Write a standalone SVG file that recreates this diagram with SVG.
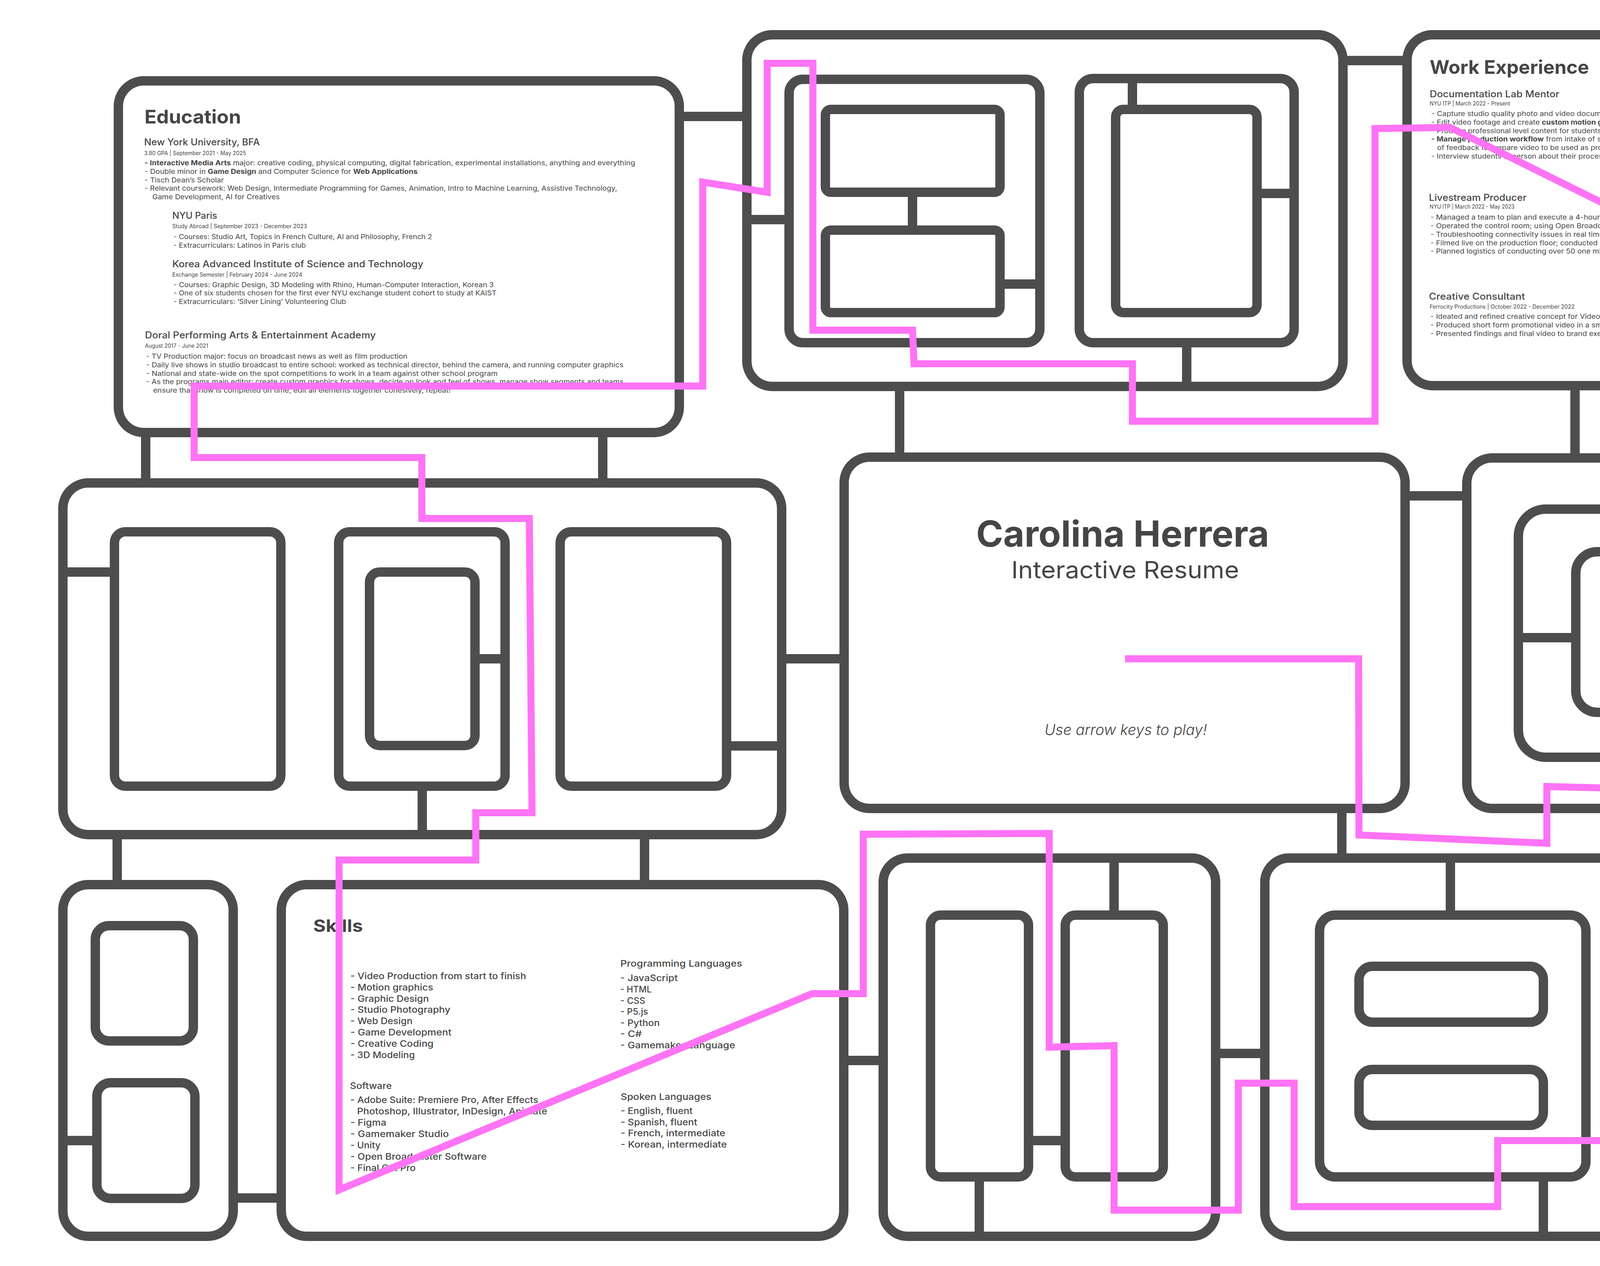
<svg xmlns="http://www.w3.org/2000/svg" width="5760" height="3240" viewBox="0 0 5760 3240">
<style>
.bx{fill:#ffffff;stroke:#4d4d4d;stroke-width:24}
.ln{stroke:#4d4d4d;stroke-width:24;fill:none}
.pk{fill:none;stroke:#ff73f5;stroke-width:18;stroke-linejoin:miter}
text{font-family:Inter,'Liberation Sans',sans-serif;fill:#454545}
.h1{font-size:48px;font-weight:700}
.h2{font-size:24px;font-weight:500}
.dt{font-size:14px;font-weight:400}
.b{font-size:17px;font-weight:400}
.sk{font-size:23px;font-weight:500}
.it{font-style:italic;font-weight:300}
tspan.s{font-weight:700}
</style>
<rect width="5760" height="3240" fill="#ffffff"/>

<g id="education">
<rect class="bx" x="303" y="207" width="1436" height="900" rx="65"/>
<text class="h1" x="370" y="316" textLength="247" lengthAdjust="spacingAndGlyphs">Education</text>
<text class="h2" x="369" y="372" textLength="296" lengthAdjust="spacingAndGlyphs">New York University, BFA</text>
<text class="dt" x="369" y="397" textLength="261" lengthAdjust="spacingAndGlyphs">3.80 GPA | September 2021 - May 2025</text>
<text class="b" x="370" y="423" textLength="1256" lengthAdjust="spacingAndGlyphs"><tspan class="s">-  Interactive Media Arts</tspan> major: creative coding, physical computing, digital fabrication, experimental installations, anything and everything</text>
<text class="b" x="370" y="445" textLength="699" lengthAdjust="spacingAndGlyphs">-  Double minor in <tspan class="s">Game Design</tspan> and Computer Science for <tspan class="s">Web Applications</tspan></text>
<text class="b" x="370" y="467" textLength="203" lengthAdjust="spacingAndGlyphs">-  Tisch Dean’s Scholar</text>
<text class="b" x="370" y="488" textLength="1210" lengthAdjust="spacingAndGlyphs">-  Relevant coursework: Web Design, Intermediate Programming for Games, Animation, Intro to Machine Learning, Assistive Technology,</text>
<text class="b" x="390" y="510" textLength="326" lengthAdjust="spacingAndGlyphs">Game Development, AI for Creatives</text>
<text class="h2" x="441" y="560" textLength="115" lengthAdjust="spacingAndGlyphs">NYU Paris</text>
<text class="dt" x="441" y="584" textLength="345" lengthAdjust="spacingAndGlyphs">Study Abroad | September 2023 - December 2023</text>
<text class="b" x="444" y="612" textLength="662" lengthAdjust="spacingAndGlyphs">-  Courses: Studio Art, Topics in French Culture, AI and Philosophy, French 2</text>
<text class="b" x="444" y="634" textLength="339" lengthAdjust="spacingAndGlyphs">-  Extracurriculars: Latinos in Paris club</text>
<text class="h2" x="441" y="684" textLength="643" lengthAdjust="spacingAndGlyphs">Korea Advanced Institute of Science and Technology</text>
<text class="dt" x="441" y="708" textLength="333" lengthAdjust="spacingAndGlyphs">Exchange Semester | February 2024 - June 2024</text>
<text class="b" x="444" y="735" textLength="820" lengthAdjust="spacingAndGlyphs">-  Courses: Graphic Design, 3D Modeling with Rhino, Human-Computer Interaction, Korean 3</text>
<text class="b" x="444" y="756" textLength="827" lengthAdjust="spacingAndGlyphs">-  One of six students chosen for the first ever NYU exchange student cohort to study at KAIST</text>
<text class="b" x="444" y="778" textLength="442" lengthAdjust="spacingAndGlyphs">-  Extracurriculars: ‘Silver Lining’ Volunteering Club</text>
<text class="h2" x="371" y="866" textLength="591" lengthAdjust="spacingAndGlyphs">Doral Performing Arts &amp; Entertainment Academy</text>
<text class="dt" x="371" y="890" textLength="162" lengthAdjust="spacingAndGlyphs">August 2017 - June 2021</text>
<text class="b" x="374" y="918" textLength="669" lengthAdjust="spacingAndGlyphs">-  TV Production major: focus on broadcast news as well as film production</text>
<text class="b" x="374" y="940" textLength="1222" lengthAdjust="spacingAndGlyphs">-  Daily live shows in studio broadcast to entire school: worked as technical director, behind the camera, and running computer graphics</text>
<text class="b" x="374" y="962" textLength="900" lengthAdjust="spacingAndGlyphs">-  National and state-wide on the spot competitions to work in a team against other school program</text>
<text class="b" x="374" y="983" textLength="1228" lengthAdjust="spacingAndGlyphs">-  As the programs main editor: create custom graphics for shows, decide on look and feel of shows, manage show segments and teams,</text>
<text class="b" x="392" y="1005" textLength="762" lengthAdjust="spacingAndGlyphs">ensure that show is completed on time, edit all elements together cohesively, repeat!</text>
</g>

<g id="top-middle">
<rect class="bx" x="1912" y="89" width="1526" height="900" rx="65"/>
<rect class="bx" x="2020" y="203" width="642" height="674" rx="35"/>
<rect class="bx" x="2113" y="280" width="447" height="212" rx="14"/>
<rect class="bx" x="2113" y="589" width="447" height="211" rx="14"/>
<rect class="bx" x="2763" y="201" width="550" height="676" rx="35"/>
<rect class="bx" x="2856" y="280" width="362" height="520" rx="20"/>
</g>

<g id="work-experience">
<rect class="bx" x="3602" y="89" width="1436" height="898" rx="65"/>
<text class="h1" x="3660" y="189" textLength="408" lengthAdjust="spacingAndGlyphs">Work Experience</text>
<text class="h2" x="3660" y="249" textLength="332" lengthAdjust="spacingAndGlyphs">Documentation Lab Mentor</text>
<text class="dt" x="3660" y="270" textLength="206" lengthAdjust="spacingAndGlyphs">NYU ITP | March 2022 - Present</text>
<text class="b" x="3664" y="297" textLength="686" lengthAdjust="spacingAndGlyphs">-  Capture studio quality photo and video documentation of student projects</text>
<text class="b" x="3664" y="319" textLength="902" lengthAdjust="spacingAndGlyphs">-  Edit video footage and create <tspan class="s">custom motion graphics</tspan> using Adobe Premiere Pro and After Effects</text>
<text class="b" x="3664" y="341" textLength="1046" lengthAdjust="spacingAndGlyphs">-  Produce professional level content for students’ portfolios, helping them present their work in the best light possible</text>
<text class="b" x="3664" y="362" textLength="1295" lengthAdjust="spacingAndGlyphs"><tspan class="s">-  Manage production workflow</tspan> from intake of specific client needs to production and image retouching to post production and multiple rounds</text>
<text class="b" x="3679" y="384" textLength="620" lengthAdjust="spacingAndGlyphs">of feedback to prepare video to be used as promotional NYU content</text>
<text class="b" x="3664" y="406" textLength="1066" lengthAdjust="spacingAndGlyphs">-  Interview students in person about their process and future plans, cut down the interview to the most important parts</text>
<text class="h2" x="3658" y="514" textLength="250" lengthAdjust="spacingAndGlyphs">Livestream Producer</text>
<text class="dt" x="3660" y="534" textLength="217" lengthAdjust="spacingAndGlyphs">NYU ITP | March 2022 - May 2023</text>
<text class="b" x="3662" y="562" textLength="1108" lengthAdjust="spacingAndGlyphs">-  Managed a team to plan and execute a 4-hour live YouTube show, coordinating technical setups and production logistics</text>
<text class="b" x="3662" y="584" textLength="1160" lengthAdjust="spacingAndGlyphs">-  Operated the control room; using Open Broadcaster Software to switch between cameras and handle smooth audio transitions</text>
<text class="b" x="3662" y="606" textLength="1269" lengthAdjust="spacingAndGlyphs">-  Troubleshooting connectivity issues in real time, communicating back and forth between floor and control room to ensure a seamless show</text>
<text class="b" x="3662" y="628" textLength="1208" lengthAdjust="spacingAndGlyphs">-  Filmed live on the production floor; conducted casual interviews with students about their works to celebrate the end of the semester</text>
<text class="b" x="3662" y="649" textLength="1159" lengthAdjust="spacingAndGlyphs">-  Planned logistics of conducting over 50 one minute interviews in one go, adapting to sudden issues and navigating a busy floor</text>
<text class="h2" x="3658" y="767" textLength="246" lengthAdjust="spacingAndGlyphs">Creative Consultant</text>
<text class="dt" x="3660" y="790" textLength="371" lengthAdjust="spacingAndGlyphs">Ferrocity Productions | October 2022 - December 2022</text>
<text class="b" x="3662" y="816" textLength="712" lengthAdjust="spacingAndGlyphs">-  Ideated and refined creative concept for Video Production company Ferrocity</text>
<text class="b" x="3662" y="838" textLength="765" lengthAdjust="spacingAndGlyphs">-  Produced short form promotional video in a small team: planning, shooting, editing.</text>
<text class="b" x="3662" y="860" textLength="502" lengthAdjust="spacingAndGlyphs">-  Presented findings and final video to brand executives</text>
</g>

<g id="top-right">
<rect class="bx" x="5180" y="89" width="420" height="898" rx="60"/>
<rect class="bx" x="5276" y="192" width="228" height="277" rx="50"/>
<rect class="bx" x="5276" y="591" width="228" height="281" rx="50"/>
</g>

<g id="middle-left">
<rect class="bx" x="161" y="1236" width="1840" height="900" rx="65"/>
<rect class="bx" x="293" y="1361" width="426" height="651" rx="28"/>
<rect class="bx" x="867" y="1361" width="426" height="651" rx="28"/>
<rect class="bx" x="946" y="1464" width="270" height="444" rx="26"/>
<rect class="bx" x="1434" y="1361" width="426" height="651" rx="28"/>
</g>

<g id="title">
<rect class="bx" x="2161" y="1170" width="1436" height="899" rx="65"/>
<text x="2499" y="1399" font-size="92" font-weight="700" textLength="750" lengthAdjust="spacingAndGlyphs">Carolina Herrera</text>
<text x="2589" y="1480" font-size="60" font-weight="400" textLength="583" lengthAdjust="spacingAndGlyphs">Interactive Resume</text>
<text class="it" x="2674" y="1881" font-size="38" textLength="416" lengthAdjust="spacingAndGlyphs">Use arrow keys to play!</text>
</g>

<g id="middle-right">
<rect class="bx" x="3755" y="1172" width="1845" height="897" rx="65"/>
<rect class="bx" x="3887" y="1303" width="813" height="635" rx="70"/>
<rect class="bx" x="4034" y="1412" width="525" height="411" rx="55"/>
<rect class="bx" x="4836" y="1303" width="613" height="635" rx="70"/>
<rect class="bx" x="4960" y="1412" width="361" height="411" rx="55"/>
</g>

<g id="bottom-left">
<rect class="bx" x="161" y="2264" width="436" height="900" rx="65"/>
<rect class="bx" x="244" y="2369" width="251" height="295" rx="35"/>
<rect class="bx" x="248" y="2771" width="251" height="296" rx="35"/>
</g>

<g id="skills">
<rect class="bx" x="720" y="2264" width="1440" height="900" rx="65"/>
<text x="802" y="2385" font-size="44" font-weight="700" textLength="127" lengthAdjust="spacingAndGlyphs">Skills</text>
<text class="sk" x="897" y="2506" textLength="450" lengthAdjust="spacingAndGlyphs">- Video Production from start to finish</text>
<text class="sk" x="897" y="2535" textLength="212" lengthAdjust="spacingAndGlyphs">- Motion graphics</text>
<text class="sk" x="897" y="2564" textLength="201" lengthAdjust="spacingAndGlyphs">- Graphic Design</text>
<text class="sk" x="897" y="2592" textLength="256" lengthAdjust="spacingAndGlyphs">- Studio Photography</text>
<text class="sk" x="897" y="2621" textLength="159" lengthAdjust="spacingAndGlyphs">- Web Design</text>
<text class="sk" x="897" y="2650" textLength="259" lengthAdjust="spacingAndGlyphs">- Game Development</text>
<text class="sk" x="897" y="2679" textLength="213" lengthAdjust="spacingAndGlyphs">- Creative Coding</text>
<text class="sk" x="897" y="2708" textLength="165" lengthAdjust="spacingAndGlyphs">- 3D Modeling</text>
<text class="sk" x="896" y="2787" textLength="107" lengthAdjust="spacingAndGlyphs">Software</text>
<text class="sk" x="897" y="2823" textLength="481" lengthAdjust="spacingAndGlyphs">- Adobe Suite: Premiere Pro, After Effects</text>
<text class="sk" x="914" y="2852" textLength="487" lengthAdjust="spacingAndGlyphs">Photoshop, Illustrator, InDesign, Animate</text>
<text class="sk" x="897" y="2881" textLength="92" lengthAdjust="spacingAndGlyphs">- Figma</text>
<text class="sk" x="897" y="2910" textLength="252" lengthAdjust="spacingAndGlyphs">- Gamemaker Studio</text>
<text class="sk" x="897" y="2939" textLength="77" lengthAdjust="spacingAndGlyphs">- Unity</text>
<text class="sk" x="897" y="2968" textLength="349" lengthAdjust="spacingAndGlyphs">- Open Broadcaster Software</text>
<text class="sk" x="897" y="2997" textLength="167" lengthAdjust="spacingAndGlyphs">- Final Cut Pro</text>
<text class="sk" x="1588" y="2474" textLength="312" lengthAdjust="spacingAndGlyphs">Programming Languages</text>
<text class="sk" x="1588" y="2511" textLength="147" lengthAdjust="spacingAndGlyphs">- JavaScript</text>
<text class="sk" x="1588" y="2540" textLength="80" lengthAdjust="spacingAndGlyphs">- HTML</text>
<text class="sk" x="1588" y="2569" textLength="64" lengthAdjust="spacingAndGlyphs">- CSS</text>
<text class="sk" x="1588" y="2597" textLength="71" lengthAdjust="spacingAndGlyphs">- P5.js</text>
<text class="sk" x="1588" y="2626" textLength="101" lengthAdjust="spacingAndGlyphs">- Python</text>
<text class="sk" x="1588" y="2654" textLength="55" lengthAdjust="spacingAndGlyphs">- C#</text>
<text class="sk" x="1588" y="2683" textLength="294" lengthAdjust="spacingAndGlyphs">- Gamemaker Language</text>
<text class="sk" x="1589" y="2815" textLength="232" lengthAdjust="spacingAndGlyphs">Spoken Languages</text>
<text class="sk" x="1589" y="2851" textLength="184" lengthAdjust="spacingAndGlyphs">- English, fluent</text>
<text class="sk" x="1589" y="2880" textLength="196" lengthAdjust="spacingAndGlyphs">- Spanish, fluent</text>
<text class="sk" x="1589" y="2908" textLength="268" lengthAdjust="spacingAndGlyphs">- French, intermediate</text>
<text class="sk" x="1589" y="2937" textLength="272" lengthAdjust="spacingAndGlyphs">- Korean, intermediate</text>
</g>

<g id="bottom-middle-left">
<rect class="bx" x="2261" y="2196" width="851" height="968" rx="62"/>
<rect class="bx" x="2382" y="2342" width="251" height="670" rx="26"/>
<rect class="bx" x="2727" y="2342" width="251" height="670" rx="26"/>
</g>

<g id="bottom-middle-right">
<rect class="bx" x="3238" y="2196" width="952" height="968" rx="62"/>
<rect class="bx" x="3378" y="2342" width="682" height="670" rx="40"/>
<rect class="bx" x="3479" y="2473" width="472" height="143" rx="34"/>
<rect class="bx" x="3479" y="2737" width="472" height="143" rx="34"/>
</g>

<g id="thank-you">
<rect class="bx" x="4308" y="2196" width="1430" height="900" rx="62"/>
<text x="4498" y="2370" font-size="92" font-weight="700" textLength="1003" lengthAdjust="spacingAndGlyphs">Thank you for Playing!</text>
<text x="4498" y="2544" font-size="58" font-weight="400" textLength="347" lengthAdjust="spacingAndGlyphs">Contact Me</text>
<text x="5112" y="2544" font-size="58" font-weight="400" textLength="271" lengthAdjust="spacingAndGlyphs">See More</text>
<text class="it" x="4498" y="2618" font-size="40" textLength="335" lengthAdjust="spacingAndGlyphs">cah9552@nyu.edu</text>
<text class="it" x="4498" y="2698" font-size="40" textLength="202" lengthAdjust="spacingAndGlyphs">@croissanf</text>
<text class="it" x="5112" y="2618" font-size="40" textLength="355" lengthAdjust="spacingAndGlyphs">caherrrera.github.io</text>
<text class="it" x="5112" y="2698" font-size="40" textLength="456" lengthAdjust="spacingAndGlyphs">youtube.com/@croissanf</text>
<text x="4847" y="3001" font-size="58" font-weight="500" textLength="321" lengthAdjust="spacingAndGlyphs">Play Again</text>
</g>

<g id="connectors" class="ln">
<line x1="1739" y1="298" x2="1912" y2="298"/>
<line x1="3438" y1="155" x2="3602" y2="155"/>
<line x1="5038" y1="217" x2="5180" y2="217"/>
<line x1="2303" y1="989" x2="2303" y2="1170"/>
<line x1="4032" y1="987" x2="4032" y2="1172"/>
<line x1="5536" y1="987" x2="5536" y2="1172"/>
<line x1="373" y1="1107" x2="373" y2="1236"/>
<line x1="1543" y1="1107" x2="1543" y2="1236"/>
<line x1="2001" y1="1686" x2="2161" y2="1686"/>
<line x1="3597" y1="1269" x2="3755" y2="1269"/>
<line x1="300" y1="2136" x2="300" y2="2264"/>
<line x1="1650" y1="2136" x2="1650" y2="2264"/>
<line x1="597" y1="3066" x2="720" y2="3066"/>
<line x1="2160" y1="2714" x2="2261" y2="2714"/>
<line x1="3112" y1="2696" x2="3238" y2="2696"/>
<line x1="3435" y1="2069" x2="3435" y2="2196"/>
<line x1="4190" y1="3041" x2="4308" y2="3041"/>
<line x1="5536" y1="2069" x2="5536" y2="2196"/>
<line x1="1912" y1="562" x2="2020" y2="562"/>
<line x1="2336" y1="492" x2="2336" y2="589"/>
<line x1="2560" y1="727" x2="2662" y2="727"/>
<line x1="2899" y1="201" x2="2899" y2="280"/>
<line x1="3218" y1="495" x2="3313" y2="495"/>
<line x1="3038" y1="877" x2="3038" y2="989"/>
<line x1="5391" y1="469" x2="5391" y2="591"/>
<line x1="5504" y1="725" x2="5600" y2="725"/>
<line x1="4453" y1="1303" x2="4453" y2="1412"/>
<line x1="3887" y1="1632" x2="4034" y2="1632"/>
<line x1="4590" y1="1938" x2="4590" y2="2069"/>
<line x1="4951" y1="1172" x2="4951" y2="1303"/>
<line x1="4836" y1="1637" x2="4960" y2="1637"/>
<line x1="5449" y1="1393" x2="5600" y2="1393"/>
<line x1="161" y1="1464" x2="293" y2="1464"/>
<line x1="1216" y1="1686" x2="1293" y2="1686"/>
<line x1="1860" y1="1909" x2="2001" y2="1909"/>
<line x1="1081" y1="2012" x2="1081" y2="2136"/>
<line x1="161" y1="2919" x2="248" y2="2919"/>
<line x1="2852" y1="2196" x2="2852" y2="2342"/>
<line x1="2507" y1="3012" x2="2507" y2="3164"/>
<line x1="2633" y1="2919" x2="2727" y2="2919"/>
<line x1="3713" y1="2196" x2="3713" y2="2342"/>
<line x1="3951" y1="3012" x2="3951" y2="3164"/>
</g>

<g id="player-path">
<polyline class="pk" points="2880,1686 3478,1686 3479,2137 3960,2158 3960,2013 4454,2025 4456,1880 4764,1863 4764,2011 5389,2011 5389,1361 5067,1361 5067,1235 5452,1235 5452,1078 4762,1078 4762,846 3712,326 3520,329 3520,1078 2899,1078 2899,931 2340,931 2336,845 2081,845 2081,162 1964,162 1964,492 1799,466 1799,988 497,988 497,1171 1080,1171 1080,1327 1355,1327 1362,2080 1218,2080 1218,2201 868,2201 868,3045 2079,2543 2210,2543 2210,2135 2686,2133 2686,2680 2852,2676 2852,3097 3170,3097 3170,2772 3313,2772 3313,3088 3834,3088 3834,2919 4129,2919 4117,2624 4249,2624 4249,2295 4454,2295"/>
</g>
</svg>
